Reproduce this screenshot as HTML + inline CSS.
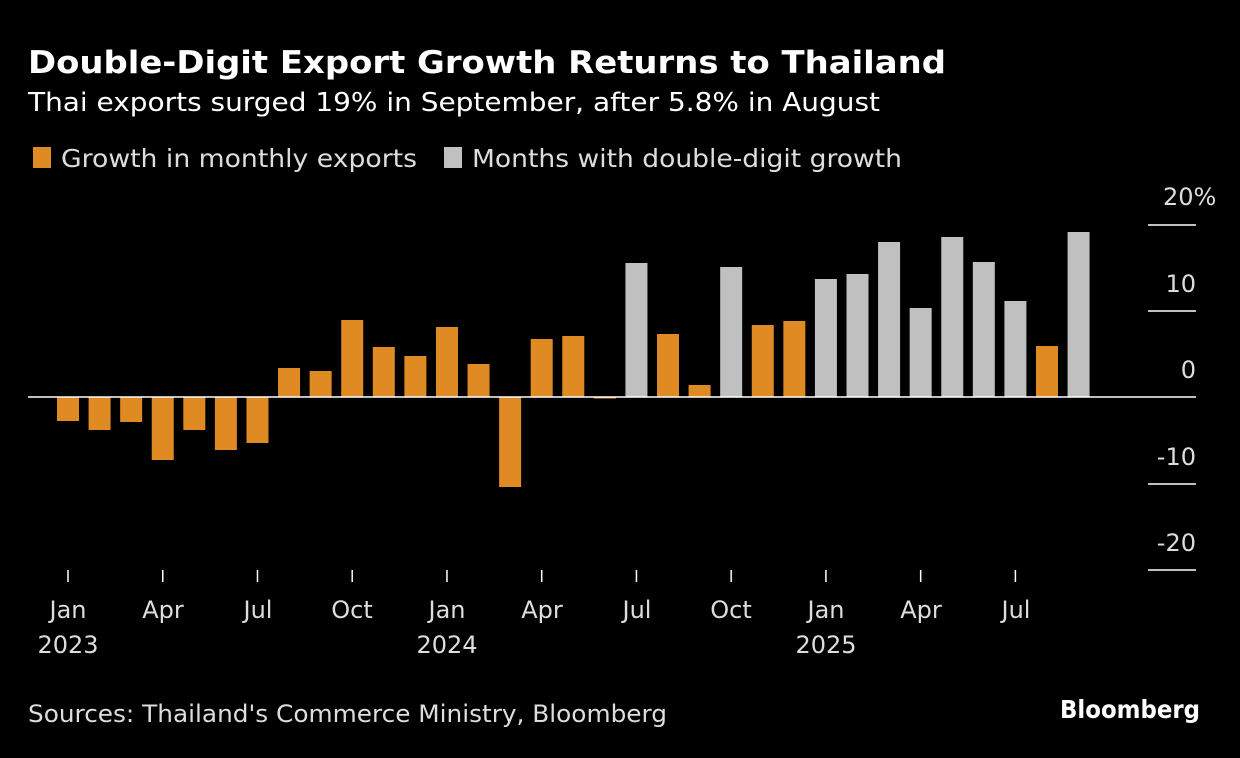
<!DOCTYPE html>
<html><head><meta charset="utf-8"><style>
body{margin:0;background:#000;width:1240px;height:754px;overflow:hidden;font-family:"DejaVu Sans",sans-serif}
</style></head><body>
<svg width="1240" height="754" xmlns="http://www.w3.org/2000/svg" font-family="DejaVu Sans, Liberation Sans, sans-serif">
<rect width="1240" height="754" fill="#000"/>
<text x="28" y="73" fill="#fff" font-size="31" font-weight="bold" textLength="918" lengthAdjust="spacingAndGlyphs">Double-Digit Export Growth Returns to Thailand</text>
<text x="28" y="111" fill="#fff" font-size="26" textLength="852" lengthAdjust="spacingAndGlyphs">Thai exports surged 19% in September, after 5.8% in August</text>
<rect x="33" y="147" width="18" height="21" fill="#e08a24"/>
<text x="61" y="167" fill="#ddd" font-size="25" textLength="356" lengthAdjust="spacingAndGlyphs">Growth in monthly exports</text>
<rect x="444" y="147" width="18" height="21" fill="#c0c0c0"/>
<text x="472" y="167" fill="#ddd" font-size="25" textLength="430" lengthAdjust="spacingAndGlyphs">Months with double-digit growth</text>
<g stroke="#fff" stroke-width="1.5">
<line x1="1148" y1="225" x2="1196" y2="225"/><line x1="1148" y1="311" x2="1196" y2="311"/>
<line x1="1148" y1="484" x2="1196" y2="484"/><line x1="1148" y1="570" x2="1196" y2="570"/>
</g>
<g fill="#ddd" font-size="24">
<text x="1163" y="205">20%</text>
<g text-anchor="end"><text x="1196" y="292">10</text><text x="1196" y="378">0</text>
<text x="1196" y="465">-10</text><text x="1196" y="551">-20</text></g>
</g>
<g id="bars"></g>
<line x1="28" y1="397" x2="1196" y2="397" stroke="#fff" stroke-width="1.5"/>
<g stroke="#fff" stroke-width="1.5" id="ticks"></g>
<g fill="#ddd" font-size="24" text-anchor="middle">
<text x="68" y="618">Jan</text><text x="68" y="653">2023</text>
<text x="163" y="618">Apr</text><text x="258" y="618">Jul</text><text x="352" y="618">Oct</text>
<text x="447" y="618">Jan</text><text x="447" y="653">2024</text>
<text x="542" y="618">Apr</text><text x="637" y="618">Jul</text><text x="731" y="618">Oct</text>
<text x="826" y="618">Jan</text><text x="826" y="653">2025</text>
<text x="921" y="618">Apr</text><text x="1016" y="618">Jul</text>
</g>
<text x="28" y="722" fill="#ddd" font-size="24" textLength="639" lengthAdjust="spacingAndGlyphs">Sources: Thailand's Commerce Ministry, Bloomberg</text>
<text x="1060" y="718" fill="#fff" font-size="25" font-weight="bold" textLength="140" lengthAdjust="spacingAndGlyphs">Bloomberg</text>
</svg>
<script>
var ys=[421,430,422,460,430,450,443,368,371,320,347,356,327,364,487,339,336,398,263,334,385,267,325,321,279,274,242,308,237,262,301,346,232];
var grey=[18,21,24,25,26,27,28,29,30,32];
var ns="http://www.w3.org/2000/svg",g=document.getElementById('bars'),t=document.getElementById('ticks');
ys.forEach(function(y,i){var cx=68+i*31.58;var r=document.createElementNS(ns,'rect');
var top=Math.min(y,397),h=Math.abs(y-397);r.setAttribute('x',cx-11);r.setAttribute('width',22);
r.setAttribute('y',top);r.setAttribute('height',Math.max(h,1.5));
r.setAttribute('fill',grey.indexOf(i)>=0?'#c0c0c0':'#e08a24');g.appendChild(r);
if(i%3==0){var l=document.createElementNS(ns,'line');l.setAttribute('x1',cx);l.setAttribute('x2',cx);l.setAttribute('y1',570);l.setAttribute('y2',582);t.appendChild(l);}});
</script>
</body></html>
